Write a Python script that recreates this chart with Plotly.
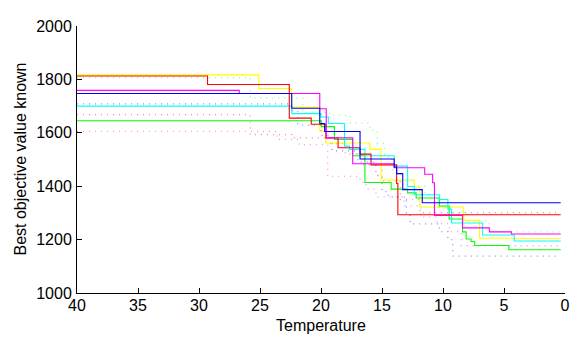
import plotly.graph_objects as go

# ---- data (temperature breakpoints, best objective value from that point on) ----
yellow_T = [40, 25.1, 22.4, 20.1, 19.6, 16.0, 15.07, 12.35, 11.9, 8.3, 7.0, 0.35]
yellow_V = [1817, 1766, 1696, 1605, 1562, 1538, 1423, 1396, 1322, 1272, 1205, 1205]

red_T = [40, 29.3, 22.6, 20.8, 19.6, 18.6, 16.8, 15.9, 13.8, 13.7, 0.35]
red_V = [1813, 1781, 1655, 1632, 1581, 1544, 1520, 1480, 1410, 1293, 1293]

magenta_T = [40, 26.7, 20.1, 19.57, 17.4, 14.0, 11.5, 10.85, 10.7, 8.4, 6.2, 4.4, 0.35]
magenta_V = [1759, 1747, 1690, 1581, 1484, 1469, 1445, 1413, 1290, 1244, 1229, 1221, 1221]

blue_T = [40, 22.4, 20.1, 19.7, 16.8, 14.0, 13.8, 13.3, 11.7, 0.35]
blue_V = [1747, 1692, 1635, 1605, 1502, 1472, 1447, 1387, 1338, 1338]

cyan_T = [40, 22.4, 20.0, 19.4, 18.07, 17.66, 16.4, 14.0, 12.9, 12.35, 10.3, 9.6, 9.3, 6.75, 4.16, 0.35]
cyan_V = [1700, 1672, 1659, 1635, 1550, 1538, 1514, 1475, 1399, 1368, 1350, 1314, 1262, 1217, 1195, 1195]

green_T = [40, 19.97, 18.9, 17.4, 16.4, 14.25, 12.9, 12.2, 10.3, 9.5, 8.4, 8.1, 7.7, 7.4, 4.6, 0.35]
green_V = [1645, 1623, 1575, 1514, 1414, 1389, 1375, 1356, 1326, 1277, 1229, 1202, 1193, 1178, 1162, 1162]

green_dot_T = [40, 25.8, 21.5, 19.3, 17.6, 16.0, 15.4, 14.8, 14.2, 13.5, 12.5, 11.5, 10.5, 9.5, 8.5, 6.2, 0.35]
green_dot_V = [1807, 1730, 1677, 1665, 1636, 1610, 1560, 1510, 1460, 1420, 1400, 1370, 1320, 1300, 1270, 1229, 1229]

blue_dot_T = [40, 22.6, 21.9, 20.0, 19.1, 17.0, 15.5, 15.0, 14.5, 13.0, 12.7, 10.3, 9.6, 9.2, 0.35]
blue_dot_V = [1708, 1683, 1629, 1590, 1532, 1490, 1440, 1380, 1359, 1300, 1259, 1230, 1200, 1138, 1138]

red_dot_T = [40, 25.8, 22.4, 19.6, 18.0, 16.5, 15.0, 13.5, 11.9, 0.35]
red_dot_V = [1668, 1593, 1581, 1560, 1520, 1480, 1420, 1350, 1301, 1301]

magenta_dot_T = [40, 23.6, 21.8, 19.45, 16.8, 16.3, 15.5, 13.2, 11.8, 10.5, 9.5, 8.5, 0.35]
magenta_dot_V = [1605, 1575, 1556, 1437, 1415, 1390, 1360, 1326, 1284, 1260, 1230, 1177, 1177]

x_ticks = [40, 35, 30, 25, 20, 15, 10, 5, 0]
y_ticks = [1000, 1200, 1400, 1600, 1800, 2000]

series = [
    (green_dot_T, green_dot_V, "#00ff00", "dot"),
    (blue_dot_T, blue_dot_V, "#0000ff", "dot"),
    (red_dot_T, red_dot_V, "#ff0000", "dot"),
    (magenta_dot_T, magenta_dot_V, "#ff00ff", "dot"),
    (yellow_T, yellow_V, "#ffff00", "solid"),
    (green_T, green_V, "#00ff00", "solid"),
    (cyan_T, cyan_V, "#00ffff", "solid"),
    (red_T, red_V, "#ff0000", "solid"),
    (magenta_T, magenta_V, "#ff00ff", "solid"),
    (blue_T, blue_V, "#0000ff", "solid"),
]

fig = go.Figure()
for T, V, c, d in series:
    fig.add_trace(go.Scatter(
        x=T, y=V, mode="lines", line_shape="hv",
        line=dict(color=c, width=1.1 if d == "solid" else 1.3,
                  dash="solid" if d == "solid" else "1px,5px"),
        opacity=1.0 if d == "solid" else 0.45,
        showlegend=False, hoverinfo="skip"))

# the page body has an 8px default margin, so the figure is sized to fit the window
font = dict(family="Liberation Sans, Arial, sans-serif", size=16, color="black")
fig.update_layout(
    width=572, height=330,
    margin=dict(l=69, r=14, t=10, b=45),
    paper_bgcolor="white", plot_bgcolor="white",
    font=font,
    showlegend=False,
    xaxis=dict(range=[40, 0], tickvals=x_ticks, ticks="inside", ticklen=5,
               tickcolor="black", showline=True, linecolor="black", linewidth=1,
               showgrid=False, zeroline=False, ticklabelstandoff=-2),
    yaxis=dict(range=[1000, 2000], tickvals=y_ticks, ticks="inside", ticklen=5,
               tickcolor="black", showline=True, linecolor="black", linewidth=1,
               showgrid=False, zeroline=False, ticklabelstandoff=1),
    annotations=[
        dict(text="Temperature", x=0.5, y=0, xref="paper", yref="paper",
             xanchor="center", yanchor="middle", yshift=-32, showarrow=False, font=font),
        dict(text="Best objective value known", x=0, y=0.5, xref="paper", yref="paper",
             xanchor="center", yanchor="middle", xshift=-57, textangle=-90,
             showarrow=False, font=font),
    ],
)
fig.write_html("out.html")
